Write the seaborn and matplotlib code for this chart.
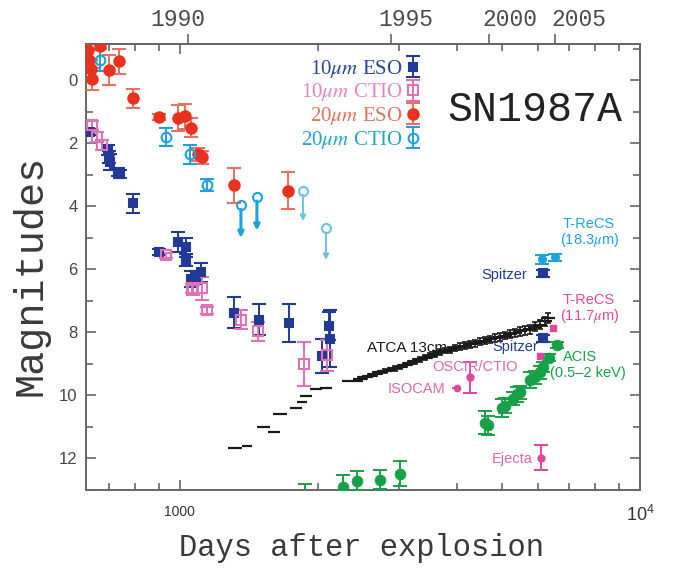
import numpy as np
import matplotlib
matplotlib.use("Agg")
import matplotlib.pyplot as plt
import matplotlib.transforms as mtransforms
import seaborn as sns
from matplotlib.ticker import MultipleLocator, NullFormatter, NullLocator, LogLocator

# ---- mid-IR light curves (days after explosion, magnitude, error) ----
eso10_day = [637, 697, 700, 704, 733, 741, 790, 900, 990, 1030, 1030, 1057, 1078, 1111,
             1310, 1485, 1726, 2035, 2108, 2117]
eso10_mag = [1.65, 2.22, 2.44, 2.60, 2.92, 2.98, 3.90, 5.45, 5.13, 5.30, 5.70, 6.30, 6.25, 6.10,
             7.37, 7.60, 7.70, 8.75, 7.80, 8.20]
eso10_err = [0.10, 0.15, 0.20, 0.25, 0.12, 0.12, 0.30, 0.10, 0.32, 0.30, 0.20, 0.25, 0.20, 0.30,
             0.48, 0.49, 0.61, 0.54, 0.45, 0.90]

ctio10_day = [644, 660, 677, 932, 1062, 1067, 1116, 1145, 1357, 1477, 1860, 2087]
ctio10_mag = [1.43, 1.80, 2.06, 5.55, 6.60, 6.65, 6.60, 7.30, 7.60, 7.97, 9.00, 8.73]
ctio10_err = [0.15, 0.15, 0.15, 0.08, 0.15, 0.15, 0.37, 0.12, 0.30, 0.30, 0.70, 0.50]

eso20_day = [632, 636, 640, 645, 670, 701, 737, 790, 900, 990, 1025, 1057, 1094, 1116, 1310, 1717]
eso20_mag = [-0.95, -0.65, -0.35, -0.05, -1.10, -0.32, -0.60, 0.57, 1.17, 1.20, 1.15, 1.50,
             2.35, 2.45, 3.33, 3.50]
eso20_err = [0.30, 0.30, 0.30, 0.35, 0.10, 0.48, 0.40, 0.30, 0.10, 0.42, 0.40, 0.30,
             0.20, 0.20, 0.55, 0.58]

ctio20_day = [670, 932, 1051, 1145]
ctio20_mag = [-0.65, 1.80, 2.35, 3.33]
ctio20_err = [0.35, 0.28, 0.30, 0.20]

# 20 micron CTIO upper limits: marker magnitude and arrow tip
ul_day = [1357, 1470, 1851, 2077]
ul_mag = [3.97, 3.70, 3.50, 4.70]
ul_tip = [5.00, 4.77, 4.47, 5.70]

# ---- ATCA 13 cm (time bins) ----
atca_day = [1317, 1399, 1520, 1600, 1650, 1788, 1842, 1880, 1975, 2077, 2375,
            2460, 2525, 2590, 2655, 2720, 2790, 2860, 2935, 3010, 3085, 3160, 3245, 3325,
            3410, 3495, 3585, 3675, 3770, 3865, 3960, 4060, 4165, 4270, 4380, 4490, 4600,
            4720, 4840, 4960, 5090, 5215, 5350, 5485, 5625, 5765, 5910, 6060, 6215, 6310]
atca_dday = [47, 35, 50, 48, 57, 53, 45, 56, 60, 62, 125,
             86, 88, 91, 93, 95, 98, 100, 103, 105, 108, 111, 114, 116,
             119, 122, 125, 129, 132, 135, 139, 142, 146, 149, 153, 157, 161,
             165, 169, 174, 178, 183, 187, 192, 197, 202, 207, 212, 218, 221]
atca_mag = [11.68, 11.62, 11.00, 11.15, 10.60, 10.40, 10.20, 10.03, 9.80, 9.78, 9.55,
            9.48, 9.43, 9.38, 9.33, 9.27, 9.22, 9.18, 9.14, 9.10, 9.03, 8.97, 8.92, 8.85,
            8.80, 8.74, 8.68, 8.62, 8.58, 8.55, 8.49, 8.45, 8.42, 8.38, 8.34, 8.30, 8.26,
            8.22, 8.18, 8.15, 8.10, 8.05, 8.01, 7.97, 7.93, 7.90, 7.82, 7.75, 7.65, 7.55]
atca_err = [0, 0, 0, 0, 0, 0, 0, 0, 0, 0, 0,
            0.05, 0.05, 0.05, 0.06, 0.06, 0.06, 0.06, 0.07, 0.07, 0.07, 0.07, 0.08, 0.08,
            0.08, 0.08, 0.09, 0.09, 0.09, 0.09, 0.10, 0.10, 0.10, 0.10, 0.11, 0.11, 0.11,
            0.12, 0.12, 0.12, 0.12, 0.13, 0.13, 0.13, 0.14, 0.14, 0.14, 0.15, 0.15, 0.15]

# ---- Chandra ACIS 0.5-2 keV ----
acis_day = [4600, 4670, 5010, 5090, 5300, 5400, 5480, 5770, 5910, 6060, 6150, 6340, 6600]
acis_mag = [10.86, 10.95, 10.40, 10.32, 10.10, 9.97, 9.90, 9.52, 9.43, 9.27, 9.10, 8.80, 8.41]
acis_err = [0.37, 0.30, 0.30, 0.25, 0.20, 0.25, 0.20, 0.25, 0.20, 0.20, 0.15, 0.10, 0.10]

# early X-ray points near the bottom
xray_day = [1869, 2262, 2426, 2721, 3008]
xray_mag = [13.35, 12.92, 12.70, 12.67, 12.48]
xray_err = [0.55, 0.40, 0.30, 0.30, 0.39]

# ---- single late-time points ----
trecs18_day = [6120, 6540]
trecs18_mag = [5.68, 5.62]
trecs18_err = [0.15, 0.12]

spitzer_day = [6150, 6150]
spitzer_mag = [6.13, 8.19]
spitzer_err = [0.10, 0.12]

late_pink_day = [6470, 6060]
late_pink_mag = [7.87, 8.76]

oscir_day, oscir_mag, oscir_err = [4270], [9.43], [0.50]
isocam_day, isocam_mag, isocam_dday = [4000], [9.78], [90]
ejecta_day, ejecta_mag, ejecta_err = [6100], [11.97], [0.40]

legend_labels = [r'10$\mu m$ ESO', r'10$\mu m$ CTIO', r'20$\mu m$ ESO', r'20$\mu m$ CTIO']
year_ticks = [1990, 1995, 2000, 2005]
year_labels = ['1990', '1995', '2000', '2005']
EXPLOSION_YEAR = 1987.146

NAVY = '#213a98'
PINK = '#e072b4'
RED = '#e8321e'
CYAN = '#1ea2de'
PALE_CYAN = '#6dc0e6'
GREEN = '#18a047'
MAGENTA = '#e0489e'
FRAME = '#666666'

sns.set_theme(style="ticks")
plt.rcParams['font.family'] = ['Liberation Sans', 'DejaVu Sans']
plt.rcParams['mathtext.fontset'] = 'stix'

fig = plt.figure(figsize=(6.74, 5.72), dpi=100)
ax = fig.add_axes([0.1276, 0.1434, 0.8220, 0.7797])
ax.set_xscale('log')


def bars(x, y, yerr, color, marker, ms, filled=True, ecolor=None, **kw):
    return ax.errorbar(x, y, yerr=yerr, fmt=marker, ms=ms, color=color,
                       mfc=color if filled else 'none', mec=color, mew=1.5,
                       ecolor=ecolor or color, elinewidth=1.4, capsize=5, capthick=1.4,
                       zorder=3, **kw)


# ATCA radio: horizontal time bins, then small vertical errors
ax.errorbar(atca_day, atca_mag, xerr=atca_dday, fmt='none', ecolor='k', elinewidth=1.6, zorder=2)
ax.errorbar(atca_day, atca_mag, yerr=atca_err, fmt='none', ecolor='k', elinewidth=1.2,
            capsize=2.5, capthick=1.2, zorder=2)

h_eso10 = bars(eso10_day, eso10_mag, eso10_err, NAVY, 's', 5.5)
h_ctio10 = bars(ctio10_day, ctio10_mag, ctio10_err, PINK, 's', 7, filled=False)
h_eso20 = bars(eso20_day, eso20_mag, eso20_err, RED, 'o', 7.5, ecolor='#e8705e')
h_ctio20 = bars(ctio20_day, ctio20_mag, ctio20_err, CYAN, 'o', 7, filled=False)

# upper limits
ul_color = [CYAN, CYAN, PALE_CYAN, PALE_CYAN]
ul_lw = [2.2, 2.2, 1.4, 1.4]
for d, m, tip, c, lw in zip(ul_day, ul_mag, ul_tip, ul_color, ul_lw):
    ax.plot(d, m, 'o', mfc='none', mec=c, ms=6.5, mew=1.5, zorder=3)
    ax.annotate('', xy=(d, tip), xytext=(d, m + 0.13),
                arrowprops=dict(arrowstyle='-|>', color=c, lw=lw, mutation_scale=8,
                                shrinkA=0, shrinkB=0))

# X-ray
ax.errorbar(acis_day, acis_mag, yerr=acis_err, fmt='none', ecolor=GREEN, elinewidth=1.4,
            capsize=5, capthick=1.4, zorder=3)
sns.scatterplot(x=acis_day, y=acis_mag, color=GREEN, s=60, edgecolor=GREEN, ax=ax, zorder=4)
ax.errorbar(xray_day, xray_mag, yerr=xray_err, fmt='none', ecolor=GREEN, elinewidth=1.4,
            capsize=5, capthick=1.4, zorder=3)
sns.scatterplot(x=xray_day, y=xray_mag, color=GREEN, s=60, edgecolor=GREEN, ax=ax, zorder=4)

# late-time IR points
bars(trecs18_day, trecs18_mag, trecs18_err, CYAN, 'o', 5)
bars(spitzer_day, spitzer_mag, spitzer_err, NAVY, 's', 5.5)
ax.plot(late_pink_day, late_pink_mag, 's', color=MAGENTA, ms=5, zorder=3, ls='none')
bars(oscir_day, oscir_mag, oscir_err, MAGENTA, 'o', 4.5)
ax.errorbar(isocam_day, isocam_mag, xerr=isocam_dday, fmt='o', ms=4.5, color=MAGENTA,
            elinewidth=1.4, zorder=3)
bars(ejecta_day, ejecta_mag, ejecta_err, MAGENTA, 'o', 4.5)

# annotations
lab = dict(fontsize=10.5, family=['Liberation Sans', 'DejaVu Sans'])
ax.text(3800, 8.5, 'ATCA 13cm', color='k', ha='right', va='center', fontsize=11,
        family=lab['family'])
ax.text(5680, 6.19, 'Spitzer', color=NAVY, ha='right', va='center', **lab)
ax.text(5990, 8.45, 'Spitzer', color=NAVY, ha='right', va='center', **lab)
ax.text(7750, 4.84, 'T-ReCS\n(18.3$\\mu$m)', color=CYAN, ha='center', va='center',
        linespacing=1.0, **lab)
ax.text(7750, 7.25, 'T-ReCS\n(11.7$\\mu$m)', color=MAGENTA, ha='center', va='center',
        linespacing=1.0, **lab)
ax.text(4378, 9.11, 'OSCIR/CTIO', color='#d868ac', ha='center', va='center', **lab)
ax.text(3275, 9.81, 'ISOCAM', color='#d868ac', ha='center', va='center', **lab)
ax.text(5853, 12.03, 'Ejecta', color='#d868ac', ha='right', va='center', **lab)
ax.text(6812, 8.79, 'ACIS', color=GREEN, ha='left', va='center', **lab)
ax.text(6367, 9.30, '(0.5\u20132 keV)', color=GREEN, ha='left', va='center', **lab)

ax.text(0.81, 0.852, 'SN1987A', transform=ax.transAxes, ha='center', va='center',
        fontsize=30, family='Liberation Mono', color='#222222')

leg = ax.legend([h_eso10, h_ctio10, h_eso20, h_ctio20], legend_labels,
                loc='upper left', bbox_to_anchor=(0.388, 0.969), frameon=False,
                markerfirst=False, handlelength=0.7, handletextpad=0.15,
                labelspacing=0.08, borderaxespad=0, borderpad=0,
                prop={'family': 'Liberation Serif', 'size': 15},
                labelcolor=['#2a449c', '#e584c2', '#e2705e', '#22a4cc'])

# axes, ticks
ax.set_xlim(625, 10000)
ax.set_ylim(13.0, -1.15)
ax.set_xticks([1000, 10000], labels=['1000', r'$\mathregular{10^4}$'])
ax.xaxis.set_minor_locator(LogLocator(subs=np.arange(2, 10)))
ax.xaxis.set_minor_formatter(NullFormatter())
ax.set_yticks(np.arange(0, 13, 2))
ax.yaxis.set_minor_locator(MultipleLocator(1))
ax.tick_params(which='both', direction='in', top=True, right=True, color=FRAME, width=1.2)
ax.tick_params(which='major', length=7)
ax.tick_params(which='minor', length=5)
ax.tick_params(axis='x', pad=11, labelcolor='#333333')
ax.tick_params(axis='y', labelsize=12, pad=6, labelcolor='#444444')
labels = ax.get_xticklabels()
labels[0].set_fontsize(10)
labels[1].set_fontsize(13)
for s in ax.spines.values():
    s.set_color(FRAME)
    s.set_linewidth(1.4)


def day_to_year(d):
    return EXPLOSION_YEAR + np.asarray(d, dtype=float) / 365.25


def year_to_day(y):
    return (np.asarray(y, dtype=float) - EXPLOSION_YEAR) * 365.25


# calendar-year axis on top: ticks from the secondary axis, labels placed as in the original
sec = ax.secondary_xaxis('top', functions=(day_to_year, year_to_day))
sec.set_xticks(year_ticks, labels=[''] * len(year_ticks))
sec.xaxis.set_minor_locator(NullLocator())
sec.tick_params(direction='out', length=7, width=1.2, color=FRAME, pad=3)
sec.spines['top'].set_color(FRAME)
sec.spines['top'].set_linewidth(1.4)

top_trans = mtransforms.blended_transform_factory(ax.transData, ax.transAxes)
label_shift = [-10, 15, 21, 24]
for yr, txt, dx in zip(year_ticks, year_labels, label_shift):
    tr = mtransforms.offset_copy(top_trans, fig=fig, x=dx, y=24, units='dots')
    ax.text(float(year_to_day(yr)), 1.0, txt, transform=tr, ha='center', va='center',
            fontsize=16.5, family='Liberation Mono', color='#4a4a4a')

ax.set_ylabel('Magnitudes', fontsize=29, family='Liberation Mono', color='#3a3a3a')
ax.yaxis.set_label_coords(-0.065, 0.482)
ax.set_xlabel('Days after explosion', fontsize=22, family='Liberation Mono', color='#3a3a3a')
ax.xaxis.set_label_coords(0.498, -0.096)

fig.savefig('out.png', dpi=100)
